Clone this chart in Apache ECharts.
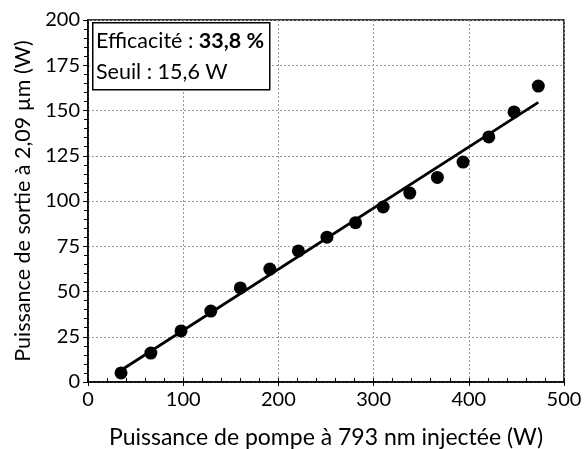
<!DOCTYPE html>
<html><head><meta charset="utf-8">
<script src="https://cdn.jsdelivr.net/npm/echarts@6/dist/echarts.min.js"></script>
<style>html,body{margin:0;padding:0;background:#fff}#c{width:584px;height:449px}</style>
</head><body><div id="c"></div>
<script>
const pumpPower = [34.7, 66, 97.7, 129, 160, 191, 221, 251, 281, 310, 338, 367, 394, 421, 447.5, 473];
const outputPower = [5.0, 16, 28.2, 39.2, 52, 62.4, 72.4, 80, 88, 96.7, 104.4, 113, 121.5, 135.4, 149.2, 163.5];
const fitX = [34.7, 473];
const fitY = [6.5, 154.5];
const xTitle = 'Puissance de pompe à 793 nm injectée (W)';
const yTitle = 'Puissance de sortie à 2,09 µm (W)';
const annotation = ['Efficacité : ', '33,8 %', 'Seuil : 15,6 W'];

const FONT = 'Lato';
const chart = echarts.init(document.getElementById('c'), null, {renderer: 'canvas'});
const gridLine = {show: true, lineStyle: {color: '#999', type: [2, 2], width: 1}};
chart.setOption({
  animation: false,
  backgroundColor: '#fff',
  grid: {left: 88, right: 20, top: 20, bottom: 67, containLabel: false, outerBoundsMode: 'none',
         show: true, borderColor: '#000', borderWidth: 1.5, backgroundColor: 'transparent'},
  xAxis: [{
    type: 'value', min: 0, max: 500, interval: 100,
    name: xTitle, nameLocation: 'middle', nameGap: 44,
    nameTextStyle: {fontFamily: FONT, fontSize: 23, color: '#000'},
    axisLine: {show: true, lineStyle: {color: '#000', width: 1.5}},
    axisTick: {show: true, inside: false, length: 4, lineStyle: {color: '#000'}},
    axisLabel: {fontFamily: FONT, fontSize: 20, color: '#000', margin: 8},
    splitLine: gridLine
  }, {
    type: 'value', min: 0, max: 500, interval: 20, position: 'bottom',
    axisLine: {show: false}, axisLabel: {show: false}, splitLine: {show: false},
    axisTick: {show: true, inside: true, length: 4, lineStyle: {color: '#000'}}
  }],
  yAxis: {
    type: 'value', min: 0, max: 200, interval: 25,
    name: yTitle, nameLocation: 'middle', nameGap: 46, nameRotate: 90,
    nameTextStyle: {fontFamily: FONT, fontSize: 21.5, color: '#000'},
    axisLine: {show: true, lineStyle: {color: '#000', width: 1.5}},
    axisTick: {show: true, inside: false, length: 5, lineStyle: {color: '#000'}},
    minorTick: {show: true, splitNumber: 5, length: 4, lineStyle: {color: '#000'}},
    axisLabel: {fontFamily: FONT, fontSize: 20, color: '#000', margin: 8},
    splitLine: gridLine
  },
  series: [{
    type: 'line', data: fitX.map((x, i) => [x, fitY[i]]),
    showSymbol: false, symbol: 'none', lineStyle: {color: '#000', width: 2.8}, z: 2
  }, {
    type: 'scatter', data: pumpPower.map((x, i) => [x, outputPower[i]]),
    symbol: 'circle', symbolSize: 13, itemStyle: {color: '#000', opacity: 1}, z: 3
  }],
  graphic: [{
    type: 'rect', left: 92, top: 22, z: 10,
    shape: {width: 177, height: 67},
    style: {fill: '#fff', stroke: '#000', lineWidth: 1.5}
  }, {
    type: 'text', left: 96, top: 30, z: 11,
    style: {
      text: '{n|' + annotation[0] + '}{b|' + annotation[1] + '}\n{n|' + annotation[2] + '}',
      rich: {
        n: {fontFamily: FONT, fontSize: 21.5, fill: '#000', lineHeight: 31},
        b: {fontFamily: FONT, fontSize: 21.5, fontWeight: 'bold', fill: '#000', lineHeight: 31}
      }
    }
  }]
});
</script></body></html>
